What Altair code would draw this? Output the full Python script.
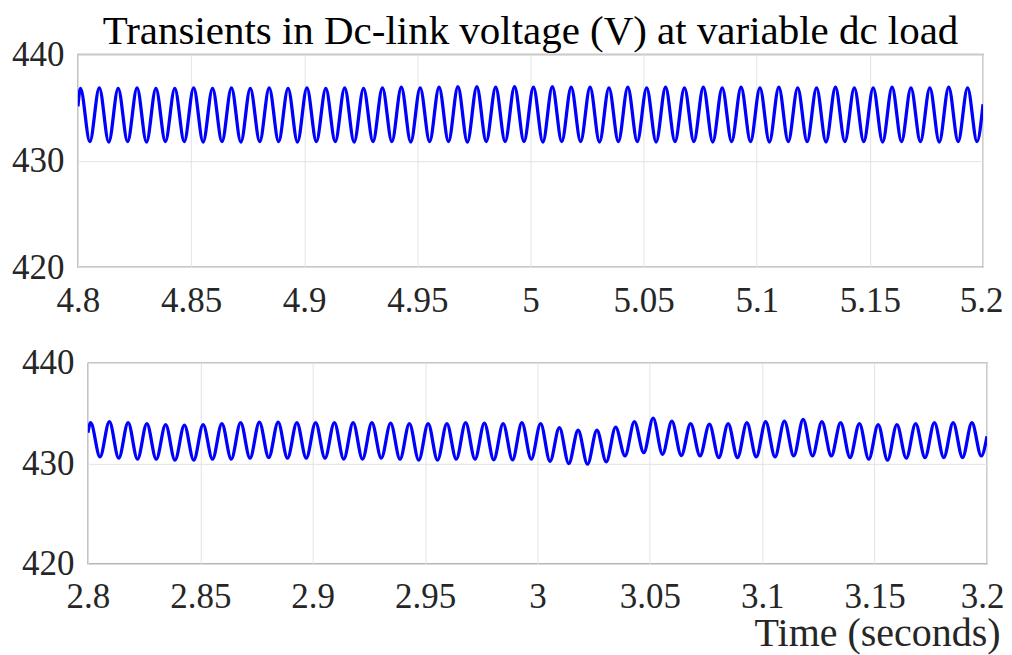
import altair as alt
import pandas as pd

TITLE = "Transients in Dc-link voltage (V) at variable dc load"
X_TITLE = "Time (seconds)"
FONT = "Liberation Serif"

Y_TICKS = [420, 430, 440]
TOP_X_TICKS = [4.8, 4.85, 4.9, 4.95, 5.0, 5.05, 5.1, 5.15, 5.2]
BOT_X_TICKS = [2.8, 2.85, 2.9, 2.95, 3.0, 3.05, 3.1, 3.15, 3.2]

# ripple period (120 Hz) and time of first crest
PERIOD = 0.008342
TOP_FIRST_PEAK = 4.8011
BOT_FIRST_PEAK = 2.8012

# top panel: start / end samples and crest / trough values (V)
TOP_START = [4.8, 435.1]
TOP_END = [5.2, 435.3]
TOP_PEAKS = [436.8, 436.85, 436.8, 436.85, 436.8, 436.8, 436.85, 436.8,
             436.85, 436.8, 436.85, 436.8, 436.85, 436.8, 436.85, 436.8,
             436.85, 436.9, 436.85, 436.9, 436.95, 436.95, 436.9, 436.95,
             436.9, 436.95, 436.9, 436.9, 436.85, 436.9, 436.85, 436.9,
             436.85, 436.9, 436.85, 436.9, 436.85, 436.9, 436.85, 436.85,
             436.9, 436.85, 436.85, 436.9, 436.85, 436.85, 436.9, 436.85]
TOP_TROUGHS = [431.8, 431.75, 431.8, 431.75, 431.8, 431.8, 431.75, 431.8,
               431.75, 431.8, 431.8, 431.75, 431.8, 431.8, 431.75, 431.8,
               431.8, 431.75, 431.8, 431.8, 431.75, 431.8, 431.8, 431.8,
               431.75, 431.8, 431.8, 431.75, 431.8, 431.8, 431.75, 431.8,
               431.8, 431.75, 431.8, 431.8, 431.75, 431.8, 431.8, 431.75,
               431.8, 431.8, 431.75, 431.8, 431.8, 431.75, 431.8, 431.8]

# bottom panel
BOT_START = [2.8, 433.06]
BOT_END = [3.2, 432.7]
BOT_PEAKS = [434.05, 434.15, 434.05, 433.95, 433.85, 433.8, 433.85, 433.95,
             434.05, 434.1, 434.1, 434.05, 434.05, 434.05, 434.05, 434.05,
             434.0, 433.95, 433.95, 433.95, 434.05, 434.0, 433.95, 434.05,
             433.95, 433.55, 433.3, 433.3, 433.6, 434.15, 434.5, 434.2,
             433.95, 433.9, 433.95, 434.05, 434.15, 434.2, 434.38, 434.15,
             434.05, 433.95, 433.85, 433.85, 433.95, 434.05, 434.05, 434.05]
BOT_TROUGHS = [430.64, 430.52, 430.42, 430.42, 430.32, 430.32, 430.42, 430.42,
               430.52, 430.58, 430.52, 430.52, 430.52, 430.42, 430.42,
               430.52, 430.42, 430.32, 430.32, 430.42, 430.42, 430.35, 430.35,
               430.42, 430.2, 429.98, 429.92, 430.15, 430.74, 431.07, 430.91,
               430.78, 430.74, 430.58, 430.58, 430.64, 430.64, 430.74, 430.74,
               430.74, 430.58, 430.42, 430.32, 430.52, 430.58, 430.58, 430.58,
               430.74]


def build(start, end, first_peak, peaks, troughs):
    t = [start[0]]
    v = [start[1]]
    for k, (p, q) in enumerate(zip(peaks, troughs)):
        t += [first_peak + k * PERIOD, first_peak + (k + 0.5) * PERIOD]
        v += [p, q]
    t.append(end[0])
    v.append(end[1])
    return pd.DataFrame({"t": t, "v": v})


top_df = build(TOP_START, TOP_END, TOP_FIRST_PEAK, TOP_PEAKS, TOP_TROUGHS)
bot_df = build(BOT_START, BOT_END, BOT_FIRST_PEAK, BOT_PEAKS, BOT_TROUGHS)

LABEL_COLOR = "#262626"
GRID = "#e3e3e3"
FRAME = "#8c8c8c"
TICK_FS = 35


def panel(df, ticks, width, height, last_shift, xtitle=None, title=None):
    domain = [ticks[0], ticks[-1]]
    last_test = "datum.value >= %g" % (ticks[-1] - 0.001)
    xaxis_kw = dict(values=ticks, format="~g", labelFlush=False, labelOverlap=False,
                    grid=True, gridColor=GRID, ticks=False, domain=False,
                    labelFont=FONT, labelFontSize=TICK_FS, labelColor=LABEL_COLOR,
                    labelPadding=16,
                    labelOffset={"condition": {"test": last_test, "value": last_shift},
                                 "value": 0})
    if xtitle:
        xaxis_kw.update(titleFont=FONT, titleFontSize=40, titleFontWeight="normal",
                        titleColor=LABEL_COLOR, titleX=width + 13, titleY=82,
                        titleAlign="right", titleBaseline="alphabetic")
    x = alt.X("t:Q", scale=alt.Scale(domain=domain, nice=False, zero=False),
              axis=alt.Axis(**xaxis_kw), title=xtitle if xtitle else None)
    y = alt.Y("v:Q", scale=alt.Scale(domain=[420, 440], nice=False, zero=False),
              axis=alt.Axis(values=Y_TICKS, grid=True, gridColor=GRID, ticks=False,
                            domain=False, labelFont=FONT, labelFontSize=TICK_FS,
                            labelColor=LABEL_COLOR, labelPadding=14),
              title=None)
    ch = alt.Chart(df).mark_line(color="#0000ff", strokeWidth=3.3,
                                 interpolate="monotone", clip=True).encode(x=x, y=y)
    props = dict(width=width, height=height,
                 view=alt.ViewBackground(stroke=FRAME, strokeWidth=1.3))
    if title:
        props["title"] = alt.TitleParams(title, font=FONT, fontSize=41,
                                         fontWeight="normal", color="#000000",
                                         anchor="middle", offset=-16)
    return ch.properties(**props)


def spacer(w):
    return alt.Chart(pd.DataFrame({"s": [0]})).mark_point(opacity=0, size=0).encode(
        x=alt.X("s:Q", axis=None), y=alt.Y("s:Q", axis=None)
    ).properties(width=w, height=1, view=alt.ViewBackground(strokeOpacity=0))


top = panel(top_df, TOP_X_TICKS, 906, 213, -2, title=TITLE)
bottom = panel(bot_df, BOT_X_TICKS, 900, 201, -5, xtitle=X_TITLE)

chart = alt.vconcat(
    alt.hconcat(spacer(1), top, spacing=0),
    alt.hconcat(spacer(11), bottom, spacing=0),
    spacing=26,
).properties(
    padding={"left": 1, "top": 2, "right": -1, "bottom": 0},
    background="white",
)

chart.save("out.html", embed_options={"renderer": "svg", "actions": False})
